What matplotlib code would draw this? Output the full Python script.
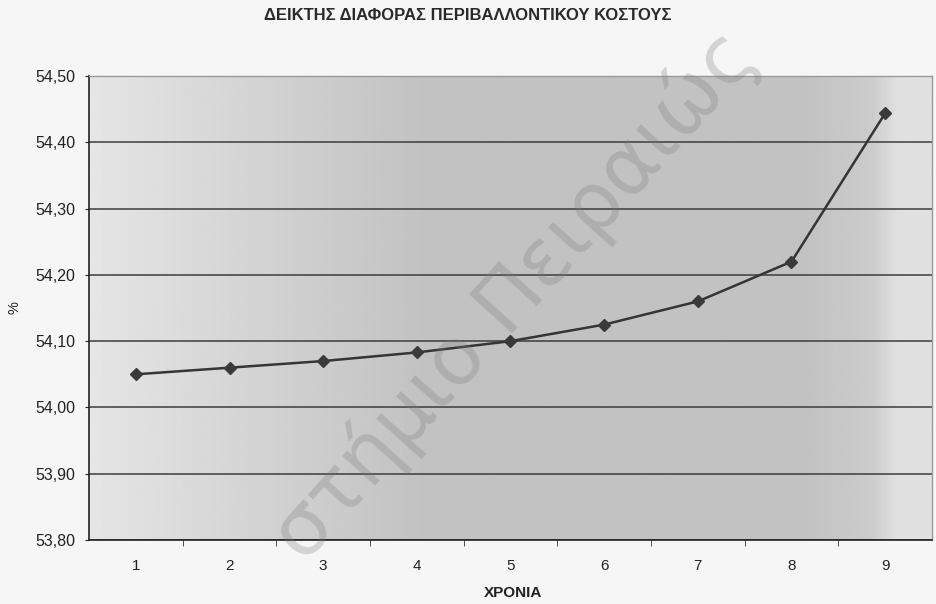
import matplotlib
matplotlib.use("Agg")
import matplotlib.pyplot as plt
import numpy as np
from matplotlib.ticker import FixedLocator, FuncFormatter

years = [1, 2, 3, 4, 5, 6, 7, 8, 9]
values = [54.05, 54.06, 54.07, 54.083, 54.10, 54.125, 54.16, 54.22, 54.444]
yticks = [53.80, 53.90, 54.00, 54.10, 54.20, 54.30, 54.40, 54.50]

title = "ΔΕΙΚΤΗΣ ΔΙΑΦΟΡΑΣ ΠΕΡΙΒΑΛΛΟΝΤΙΚΟΥ ΚΟΣΤΟΥΣ"
xlabel = "ΧΡΟΝΙΑ"
ylabel = "%"
watermark = "στήμιο Πειραιώς"

plt.rcParams['font.family'] = ['Liberation Sans', 'DejaVu Sans']

fig = plt.figure(figsize=(9.36, 6.04), dpi=100, facecolor='#f6f6f6')
ax = fig.add_axes([0.0951, 0.106, 0.9006, 0.768])

# scanned-looking plot-area shading (light at the edges, darker in the middle)
xs = np.linspace(0, 1, 400)
shade = np.interp(xs, [0, 0.08, 0.25, 0.4, 0.85, 0.93, 0.96, 1.0],
                  [0.90, 0.87, 0.81, 0.76, 0.76, 0.80, 0.88, 0.88])
ax.imshow(shade[np.newaxis, :], extent=[0, 1, 0, 1], transform=ax.transAxes,
          aspect='auto', cmap='gray', vmin=0, vmax=1, zorder=0)

ax.plot(years, values, color='#353535', lw=1.8, marker='D', ms=6,
        mfc='#3a3a3a', mec='#3a3a3a', zorder=3)

ax.set_xlim(0.5, 9.5)
ax.set_ylim(53.80, 54.50)
ax.set_yticks(yticks)
ax.yaxis.set_major_formatter(FuncFormatter(lambda v, p: f"{v:.2f}".replace('.', ',')))
ax.yaxis.grid(True, color='#3c3c3c', lw=1.1, zorder=1)
ax.set_axisbelow(True)

# category axis: labels at centers, tick marks at boundaries
ax.set_xticks(years)
ax.set_xticklabels([str(y) for y in years])
ax.tick_params(axis='x', which='major', length=0, pad=14, labelsize=11, colors='#222222')
ax.xaxis.set_minor_locator(FixedLocator([y + 0.5 for y in years[:-1]]))
ax.tick_params(axis='x', which='minor', length=4, direction='out', color='#333333')
ax.tick_params(axis='y', length=3, direction='out', labelsize=11.5, colors='#222222', pad=7)

for s in ['left', 'bottom']:
    ax.spines[s].set_color('#222222')
    ax.spines[s].set_linewidth(1.2)
for s in ['top', 'right']:
    ax.spines[s].set_color('#9a9a9a')
    ax.spines[s].set_linewidth(1.0)

fig.text(0.5, 0.975, title, ha='center', va='center', fontsize=12, fontweight='bold', color='#2a2a2a')
fig.text(0.548, 0.019, xlabel, ha='center', va='center', fontsize=11, fontweight='bold', color='#222222')
fig.text(0.016, 0.49, ylabel, ha='center', va='center', rotation=90, fontsize=10.5, color='#222222')

# scan watermark
fig.text(760 / 936, 1 - 58 / 604, watermark, ha='right', va='baseline', rotation=48,
         rotation_mode='anchor', fontsize=58, family='DejaVu Sans',
         color='#7a7a7a', alpha=0.28, zorder=10)

fig.savefig('out.png', dpi=100, facecolor=fig.get_facecolor())
